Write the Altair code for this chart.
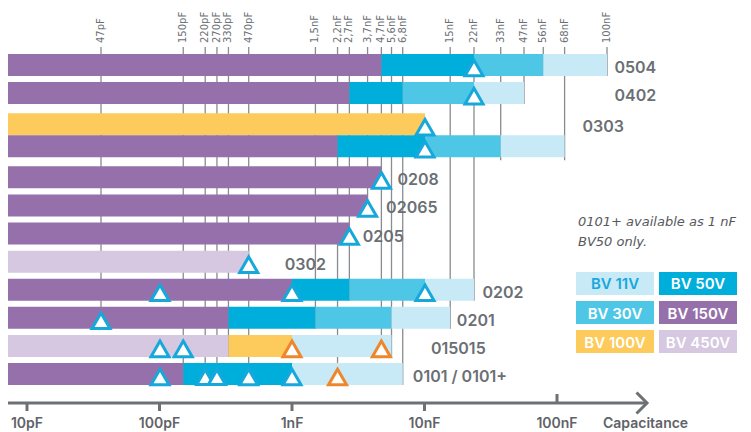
import altair as alt
import pandas as pd

# ---------------- data ----------------
rows = ["0504", "0402", "0303a", "0303", "0208", "02065", "0205",
        "0302", "0202", "0201", "015015", "0101"]
C_MIN = 7  # pF, left edge of every bar

seg_row = ["0504", "0504", "0504", "0504",
           "0402", "0402", "0402", "0402",
           "0303a",
           "0303", "0303", "0303", "0303",
           "0208", "02065", "0205", "0302",
           "0202", "0202", "0202", "0202",
           "0201", "0201", "0201", "0201",
           "015015", "015015", "015015",
           "0101", "0101", "0101"]
seg_start = [C_MIN, 4700, 22000, 56000,
             C_MIN, 2700, 6800, 22000,
             C_MIN,
             C_MIN, 2200, 10000, 33000,
             C_MIN, C_MIN, C_MIN, C_MIN,
             C_MIN, 1000, 2700, 10000,
             C_MIN, 330, 1500, 5600,
             C_MIN, 330, 1000,
             C_MIN, 150, 1000]
seg_end = [4700, 22000, 56000, 100000,
           2700, 6800, 22000, 47000,
           10000,
           2200, 10000, 33000, 68000,
           4700, 3700, 2700, 470,
           1000, 2700, 10000, 22000,
           330, 1500, 5600, 15000,
           330, 1000, 5600,
           150, 1000, 6800]
seg_bv = ["BV 150V", "BV 50V", "BV 30V", "BV 11V",
          "BV 150V", "BV 50V", "BV 30V", "BV 11V",
          "BV 100V",
          "BV 150V", "BV 50V", "BV 30V", "BV 11V",
          "BV 150V", "BV 150V", "BV 150V", "BV 450V",
          "BV 150V", "BV 50V", "BV 30V", "BV 11V",
          "BV 150V", "BV 50V", "BV 30V", "BV 11V",
          "BV 450V", "BV 100V", "BV 11V",
          "BV 150V", "BV 50V", "BV 11V"]

tri_row = ["0504", "0402", "0303a", "0303", "0208", "02065", "0205", "0302",
           "0202", "0202", "0202", "0201",
           "015015", "015015", "015015", "015015",
           "0101", "0101", "0101", "0101", "0101", "0101"]
tri_val = [22000, 22000, 10000, 10000, 4700, 3700, 2700, 470,
           100, 1000, 10000, 47,
           100, 150, 1000, 4700,
           100, 220, 270, 470, 1000, 2200]
tri_kind = ["blue", "blue", "blue", "blue", "blue", "blue", "blue", "blue",
            "blue", "blue", "blue", "blue",
            "blue", "blue", "orange", "orange",
            "blue", "blue", "blue", "blue", "blue", "orange"]
tri_size = ["big"] * 17 + ["small", "small"] + ["big"] * 3

tick_val = [47, 150, 220, 270, 330, 470, 1500, 2200, 2700, 3700, 4700, 5600, 6800,
            15000, 22000, 33000, 47000, 56000, 68000, 100000]
tick_text = ["47pF", "150pF", "220pF", "270pF", "330pF", "470pF", "1,5nF", "2,2nF",
             "2,7nF", "3,7nF", "4,7nF", "5,6nF", "6,8nF", "15nF", "22nF", "33nF",
             "47nF", "56nF", "68nF", "100nF"]
tick_end_row = ["0201", "0101", "0101", "0101", "015015", "0101", "0201", "0101",
                "0202", "02065", "015015", "015015", "0101", "0201", "0202", "0303",
                "0402", "0504", "0303", "0504"]

label_row = ["0504", "0402", "0303a", "0208", "02065", "0205", "0302", "0202",
             "0201", "015015", "0101"]
label_text = ["0504", "0402", "0303", "0208", "02065", "0205", "0302", "0202",
              "0201", "015015", "0101 / 0101+"]
label_at = [107000, 107000, 80000, 6200, 5100, 3400, 880, 25000, 16700, 11000, 8100]

legend_bv = ["BV 11V", "BV 50V", "BV 30V", "BV 150V", "BV 100V", "BV 450V"]

axis_val = [10, 100, 1000, 10000, 100000]
axis_text = ["10pF", "100pF", "1nF", "10nF", "100nF"]

note_lines = ["0101+ available as 1 nF", "BV50 only."]

# ---------------- styling ----------------
bv_domain = ["BV 11V", "BV 30V", "BV 50V", "BV 100V", "BV 150V", "BV 450V"]
bv_range = ["#C8E9F6", "#4EC7E6", "#00AEDB", "#FCCB5B", "#9670AB", "#D5C8E0"]
COLOR = alt.Scale(domain=bv_domain, range=bv_range)
GRAY = "#6b6f74"
LINE = "#888b90"
FONT = "DejaVu Sans"
BFONT = "Inter"

# top scale as drawn in the graphic (log, piecewise)
X_MAIN = alt.Scale(type="log", nice=False,
                   domain=[C_MIN, 10, 47, 100, 1000, 10000, 22000, 47000, 100000],
                   range=[0, 19, 93, 152, 284, 417, 466, 516, 599])
# bottom capacitance arrow axis
X_AXIS = alt.Scale(type="log", nice=False, domain=[10, 100000], range=[19, 549])
Y_ROWS = alt.Scale(type="band", domain=rows, paddingInner=0.217, paddingOuter=0)

seg_df = pd.DataFrame({"row": seg_row, "start": seg_start, "end": seg_end, "bv": seg_bv})
tri_df = pd.DataFrame({"row": tri_row, "val": tri_val, "kind": tri_kind, "size": tri_size})
tick_df = pd.DataFrame({"val": tick_val, "text": tick_text, "end_row": tick_end_row})
label_df = pd.DataFrame({"row": label_row, "text": label_text, "at": label_at})
leg_df = pd.DataFrame({"bv": legend_bv})
leg_df["col"] = [i % 2 for i in range(len(legend_bv))]
leg_df["lrow"] = [i // 2 for i in range(len(legend_bv))]
axis_df = pd.DataFrame({"val": axis_val, "text": axis_text})
one = pd.DataFrame({"a": [0]})

groups = [([r for r in rows if r not in ("0303a", "0303")], 0), (["0303a"], 3), (["0303"], -3)]

layers = []

# vertical guide lines + top labels
layers.append(
    alt.Chart(tick_df).mark_rule(color=LINE, strokeWidth=1.3, yOffset=11).encode(
        x=alt.X("val:Q", scale=X_MAIN, axis=None),
        y=alt.Y("end_row:N", scale=Y_ROWS, axis=None),
        y2=alt.value(-7),
    )
)
layers.append(
    alt.Chart(tick_df).mark_text(angle=270, align="left", baseline="middle",
                                 font=FONT, fontSize=10, color=GRAY).encode(
        x=alt.X("val:Q", scale=X_MAIN, axis=None),
        y=alt.value(-11),
        text="text:N",
    )
)

# bars
for members, off in groups:
    layers.append(
        alt.Chart(seg_df).transform_filter(
            alt.FieldOneOfPredicate(field="row", oneOf=members)
        ).mark_bar(yOffset=off).encode(
            x=alt.X("start:Q", scale=X_MAIN, axis=None),
            x2="end:Q",
            y=alt.Y("row:N", scale=Y_ROWS, axis=None),
            color=alt.Color("bv:N", scale=COLOR, legend=None),
        )
    )

# triangles
for members, off in groups:
    layers.append(
        alt.Chart(tri_df).transform_filter(
            alt.FieldOneOfPredicate(field="row", oneOf=members)
        ).mark_point(shape="triangle-up", filled=True, fill="white", opacity=1,
                     strokeWidth=3, yOffset=3 + off).encode(
            x=alt.X("val:Q", scale=X_MAIN, axis=None),
            y=alt.Y("row:N", scale=Y_ROWS, axis=None),
            stroke=alt.Stroke("kind:N", scale=alt.Scale(domain=["blue", "orange"],
                                                        range=["#17A8DB", "#F0862B"]),
                              legend=None),
            size=alt.Size("size:N", scale=alt.Scale(domain=["big", "small"],
                                                    range=[324, 290]), legend=None),
        )
    )

# row labels
for members, off in groups:
    layers.append(
        alt.Chart(label_df).transform_filter(
            alt.FieldOneOfPredicate(field="row", oneOf=members)
        ).mark_text(align="left", baseline="middle", dy=3 + off, font=BFONT,
                    fontSize=16, fontWeight=600, color=GRAY).encode(
            x=alt.X("at:Q", scale=X_MAIN, axis=None),
            y=alt.Y("row:N", scale=Y_ROWS, axis=None),
            text="text:N",
        )
    )

# note
layers.append(
    alt.Chart(one).mark_text(align="left", baseline="alphabetic", font=FONT,
                             fontSize=13, fontStyle="italic", color="#55595e",
                             lineHeight=20).encode(
        x=alt.value(570), y=alt.value(172), text=alt.value(note_lines)
    )
)

# legend
LX = alt.Scale(type="band", domain=[0, 1], range=[568, 729], paddingInner=0.06, paddingOuter=0)
LY = alt.Scale(type="band", domain=[0, 1, 2], range=[218, 299], paddingInner=0.207, paddingOuter=0)
layers.append(
    alt.Chart(leg_df).mark_rect().encode(
        x=alt.X("col:O", scale=LX, axis=None),
        y=alt.Y("lrow:O", scale=LY, axis=None),
        color=alt.Color("bv:N", scale=COLOR, legend=None),
    )
)
layers.append(
    alt.Chart(leg_df).mark_text(align="center", baseline="middle", font=BFONT,
                                fontSize=15, fontWeight=600, dy=1).encode(
        x=alt.X("col:O", scale=LX, axis=None),
        y=alt.Y("lrow:O", scale=LY, axis=None),
        text="bv:N",
        color=alt.condition("datum.bv == 'BV 11V'", alt.value("#17A8DB"), alt.value("white")),
    )
)

# bottom arrow axis
AX = "#6d7176"
layers.append(
    alt.Chart(one).mark_rule(color=AX, strokeWidth=3).encode(
        x=alt.value(0), x2=alt.value(638), y=alt.value(349)
    )
)
layers.append(
    alt.Chart(one).mark_point(shape="M-1,-1L0,0L-1,1", filled=False, opacity=1,
                              color=AX, strokeWidth=3, size=441).encode(
        x=alt.value(639), y=alt.value(349)
    )
)
layers.append(
    alt.Chart(axis_df).transform_filter("datum.val < 100000").mark_rule(
        color=AX, strokeWidth=3).encode(
        x=alt.X("val:Q", scale=X_AXIS, axis=None),
        y=alt.value(349), y2=alt.value(357),
    )
)
layers.append(
    alt.Chart(axis_df).transform_filter("datum.val >= 100000").mark_rule(
        color=AX, strokeWidth=3).encode(
        x=alt.X("val:Q", scale=X_AXIS, axis=None),
        y=alt.value(340), y2=alt.value(349),
    )
)
layers.append(
    alt.Chart(axis_df).mark_text(align="center", baseline="alphabetic", font=BFONT,
                                 fontSize=14, fontWeight=600, color="#5f6368").encode(
        x=alt.X("val:Q", scale=X_AXIS, axis=None),
        y=alt.value(374),
        text="text:N",
    )
)
layers.append(
    alt.Chart(one).mark_text(align="left", baseline="alphabetic", font=BFONT,
                             fontSize=14, fontWeight=600, color="#5f6368").encode(
        x=alt.value(595), y=alt.value(374), text=alt.value("Capacitance")
    )
)

chart = alt.layer(*layers).resolve_scale(
    x="independent", y="independent", stroke="independent", size="independent"
).properties(
    width=735, height=331,
    autosize=alt.AutoSizeParams(type="none"),
    padding={"left": 0, "top": 46, "right": 0, "bottom": 47},
).configure_view(stroke=None)

chart.save("out.html", embed_options={"renderer": "svg", "actions": False})
